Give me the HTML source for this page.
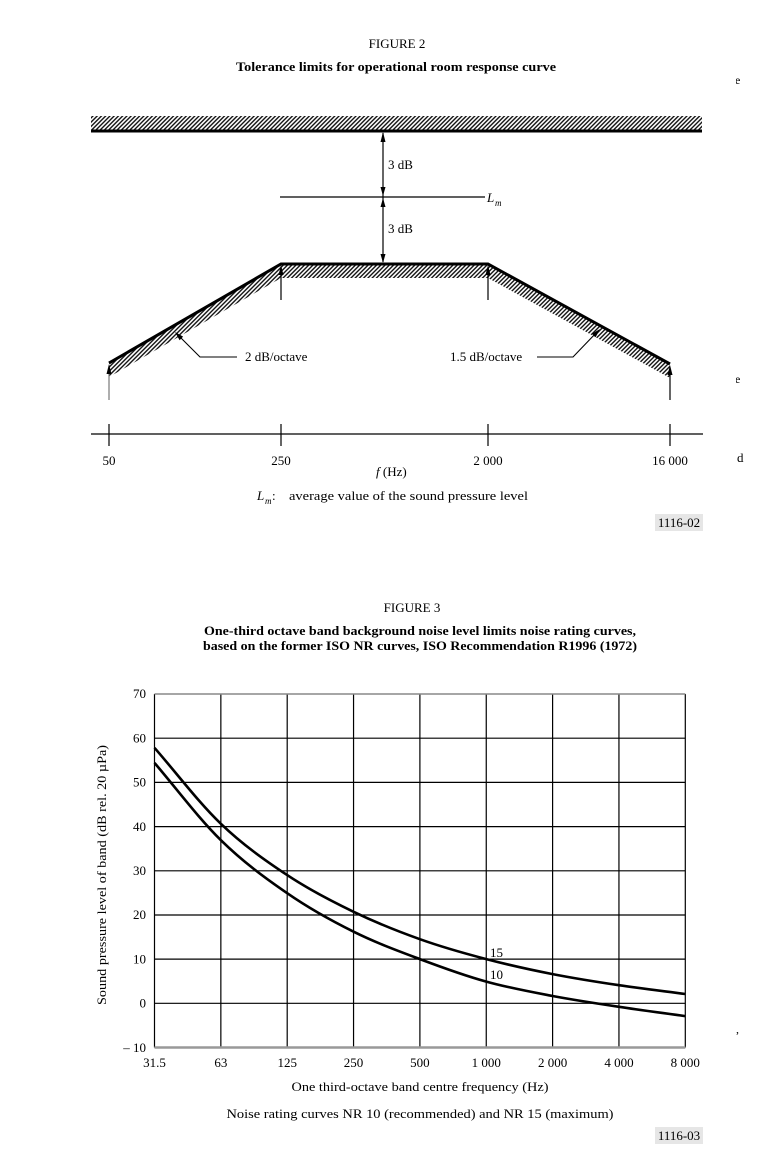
<!DOCTYPE html>
<html>
<head>
<meta charset="utf-8">
<style>
html,body{margin:0;padding:0;background:#fff;}
svg{display:block;}
text{font-family:"Liberation Serif","DejaVu Serif",serif;fill:#000;}
</style>
</head>
<body>
<svg width="771" height="1173" viewBox="0 0 771 1173" xmlns="http://www.w3.org/2000/svg">
<defs>
<pattern id="h" width="3" height="10" patternUnits="userSpaceOnUse" patternTransform="rotate(45)">
<line x1="0.75" y1="0" x2="0.75" y2="10" stroke="#000" stroke-width="1.3"/>
</pattern>
<clipPath id="edge"><rect x="736" y="0" width="35" height="1173"/></clipPath>
</defs>

<!-- FIGURE 2 -->
<text x="397" y="48" font-size="13" text-anchor="middle">FIGURE  2</text>
<text x="396" y="71" font-size="13" font-weight="bold" text-anchor="middle" textLength="320" lengthAdjust="spacingAndGlyphs">Tolerance limits for operational room response curve</text>

<!-- top band -->
<rect x="91" y="116" width="611" height="14" fill="url(#h)"/>
<line x1="91" y1="131" x2="702" y2="131" stroke="#000" stroke-width="3"/>

<!-- double arrows -->
<line x1="383" y1="133" x2="383" y2="262" stroke="#000" stroke-width="1.2"/>
<polygon points="383,132 380.5,142 385.5,142" fill="#000"/>
<polygon points="383,196 380.5,187 385.5,187" fill="#000"/>
<polygon points="383,198 380.5,207 385.5,207" fill="#000"/>
<polygon points="383,263 380.5,254 385.5,254" fill="#000"/>
<text x="388" y="169" font-size="13">3 dB</text>
<text x="388" y="233" font-size="13">3 dB</text>

<!-- Lm line -->
<line x1="280" y1="197" x2="485" y2="197" stroke="#000" stroke-width="1.2"/>
<text x="487" y="202" font-size="13" font-style="italic">L</text>
<text x="495" y="206" font-size="9" font-style="italic">m</text>

<!-- trapezoid hatch -->
<polygon points="109,363 281,264 488,264 670,364 670,378 488,278 281,278 109,377" fill="url(#h)"/>
<polyline points="109,363 281,264 488,264 670,364" fill="none" stroke="#000" stroke-width="3" stroke-linejoin="miter"/>

<!-- vertical arrows to curve -->
<line x1="281" y1="268" x2="281" y2="300" stroke="#000" stroke-width="1.2"/>
<polygon points="281,265 278.5,275 283.5,275" fill="#000"/>
<line x1="488" y1="268" x2="488" y2="300" stroke="#000" stroke-width="1.2"/>
<polygon points="488,265 485.5,275 490.5,275" fill="#000"/>
<line x1="109" y1="368" x2="109" y2="400" stroke="#777" stroke-width="1.2"/>
<polygon points="109,364 106.5,374 111.5,374" fill="#000"/>
<line x1="670" y1="369" x2="670" y2="400" stroke="#000" stroke-width="1.2"/>
<polygon points="670,365 667.5,375 672.5,375" fill="#000"/>

<!-- leaders -->
<polyline points="237,357 200,357 178,335" fill="none" stroke="#000" stroke-width="1.1"/>
<polygon points="175,332 183.1,336.6 179.6,340.2" fill="#000"/>
<text x="245" y="361" font-size="13">2 dB/octave</text>
<polyline points="537,357 573,357 597,332" fill="none" stroke="#000" stroke-width="1.1"/>
<polygon points="600,329 595.6,337.2 592.0,333.8" fill="#000"/>
<text x="450" y="361" font-size="13">1.5 dB/octave</text>

<!-- frequency axis -->
<line x1="91" y1="434" x2="703" y2="434" stroke="#000" stroke-width="1.3"/>
<line x1="109" y1="424" x2="109" y2="446" stroke="#000" stroke-width="1.2"/>
<line x1="281" y1="424" x2="281" y2="446" stroke="#000" stroke-width="1.2"/>
<line x1="488" y1="424" x2="488" y2="446" stroke="#000" stroke-width="1.2"/>
<line x1="670" y1="424" x2="670" y2="446" stroke="#000" stroke-width="1.2"/>
<text x="109" y="465" font-size="13" text-anchor="middle">50</text>
<text x="281" y="465" font-size="13" text-anchor="middle">250</text>
<text x="488" y="465" font-size="13" text-anchor="middle">2 000</text>
<text x="670" y="465" font-size="13" text-anchor="middle">16 000</text>
<text x="376" y="476" font-size="13"><tspan font-style="italic">f</tspan> (Hz)</text>

<text x="257" y="500" font-size="13" font-style="italic">L</text>
<text x="265" y="504" font-size="9" font-style="italic">m</text>
<text x="272" y="500" font-size="13">:</text>
<text x="289" y="500" font-size="13" textLength="239" lengthAdjust="spacingAndGlyphs">average value of the sound pressure level</text>

<rect x="655" y="514" width="48" height="17" fill="#e6e6e6"/>
<text x="679" y="527" font-size="13" text-anchor="middle">1116-02</text>

<!-- right edge fragments -->
<g clip-path="url(#edge)">
<text x="735" y="84" font-size="12" fill="#555">e</text>
<text x="735" y="383" font-size="12" fill="#555">e</text>
<text x="737" y="462" font-size="13">d</text>
<text x="736" y="1033" font-size="12" fill="#777">,</text>
</g>

<!-- FIGURE 3 -->
<text x="412" y="612" font-size="13" text-anchor="middle">FIGURE  3</text>
<text x="420" y="635" font-size="13" font-weight="bold" text-anchor="middle" textLength="432" lengthAdjust="spacingAndGlyphs">One-third octave band background noise level limits noise rating curves,</text>
<text x="420" y="650" font-size="13" font-weight="bold" text-anchor="middle" textLength="434" lengthAdjust="spacingAndGlyphs">based on the former ISO NR curves, ISO Recommendation R1996 (1972)</text>

<!-- grid -->
<g stroke="#000" stroke-width="1.2">
<line x1="154.5" y1="694" x2="154.5" y2="1047.5"/>
<line x1="220.85" y1="694" x2="220.85" y2="1047.5"/>
<line x1="287.2" y1="694" x2="287.2" y2="1047.5"/>
<line x1="353.55" y1="694" x2="353.55" y2="1047.5"/>
<line x1="419.9" y1="694" x2="419.9" y2="1047.5"/>
<line x1="486.25" y1="694" x2="486.25" y2="1047.5"/>
<line x1="552.6" y1="694" x2="552.6" y2="1047.5"/>
<line x1="618.95" y1="694" x2="618.95" y2="1047.5"/>
<line x1="685.3" y1="694" x2="685.3" y2="1047.5"/>
<line x1="154.5" y1="738.2" x2="685.3" y2="738.2"/>
<line x1="154.5" y1="782.4" x2="685.3" y2="782.4"/>
<line x1="154.5" y1="826.6" x2="685.3" y2="826.6"/>
<line x1="154.5" y1="870.8" x2="685.3" y2="870.8"/>
<line x1="154.5" y1="915.0" x2="685.3" y2="915.0"/>
<line x1="154.5" y1="959.1" x2="685.3" y2="959.1"/>
<line x1="154.5" y1="1003.3" x2="685.3" y2="1003.3"/>
</g>
<line x1="154.5" y1="694" x2="685.3" y2="694" stroke="#888" stroke-width="1.5"/>
<line x1="154.5" y1="1047.5" x2="685.3" y2="1047.5" stroke="#999" stroke-width="2.5"/>

<!-- y tick labels -->
<g font-size="13" text-anchor="end">
<text x="146" y="698">70</text>
<text x="146" y="742.5">60</text>
<text x="146" y="786.5">50</text>
<text x="146" y="831">40</text>
<text x="146" y="875">30</text>
<text x="146" y="919">20</text>
<text x="146" y="963.5">10</text>
<text x="146" y="1007.5">0</text>
<text x="146" y="1052">– 10</text>
</g>

<!-- x tick labels -->
<g font-size="13" text-anchor="middle">
<text x="154.5" y="1067">31.5</text>
<text x="220.85" y="1067">63</text>
<text x="287.2" y="1067">125</text>
<text x="353.55" y="1067">250</text>
<text x="419.9" y="1067">500</text>
<text x="486.25" y="1067">1 000</text>
<text x="552.6" y="1067">2 000</text>
<text x="618.95" y="1067">4 000</text>
<text x="685.3" y="1067">8 000</text>
</g>

<!-- curves -->
<path d="M154.5,747.8 C176.6,773.1 198.7,802.6 220.9,823.8 C243.0,845.0 265.1,860.4 287.2,875.1 C309.3,889.8 331.4,901.1 353.6,911.8 C375.7,922.5 397.8,931.3 419.9,939.2 C442.0,947.1 464.1,953.3 486.3,959.1 C508.4,964.9 530.5,969.8 552.6,974.1 C574.7,978.4 596.8,981.9 619.0,985.2 C641.1,988.5 663.2,991.1 685.3,994.0" fill="none" stroke="#000" stroke-width="2.6"/>
<path d="M154.5,762.9 C176.6,788.7 198.7,818.5 220.9,840.2 C243.0,861.9 265.1,878.0 287.2,893.2 C309.3,908.5 331.4,920.7 353.6,931.7 C375.7,942.7 397.8,950.8 419.9,959.1 C442.0,967.4 464.1,975.5 486.3,981.6 C508.4,987.8 530.5,991.8 552.6,996.0 C574.7,1000.2 596.8,1003.5 619.0,1006.8 C641.1,1010.2 663.2,1013.0 685.3,1016.1" fill="none" stroke="#000" stroke-width="2.6"/>
<text x="490" y="957" font-size="13">15</text>
<text x="490" y="979" font-size="13">10</text>

<!-- y axis label -->
<text transform="translate(106,875) rotate(-90)" font-size="13" text-anchor="middle" textLength="260" lengthAdjust="spacingAndGlyphs">Sound pressure level of band (dB rel. 20 µPa)</text>

<!-- x axis titles -->
<text x="420" y="1091" font-size="13" text-anchor="middle" textLength="257" lengthAdjust="spacingAndGlyphs">One third-octave band centre frequency (Hz)</text>
<text x="420" y="1118" font-size="13" text-anchor="middle" textLength="387" lengthAdjust="spacingAndGlyphs">Noise rating curves NR 10 (recommended) and NR 15 (maximum)</text>

<rect x="655" y="1127" width="48" height="17" fill="#e6e6e6"/>
<text x="679" y="1140" font-size="13" text-anchor="middle">1116-03</text>
</svg>
</body>
</html>
